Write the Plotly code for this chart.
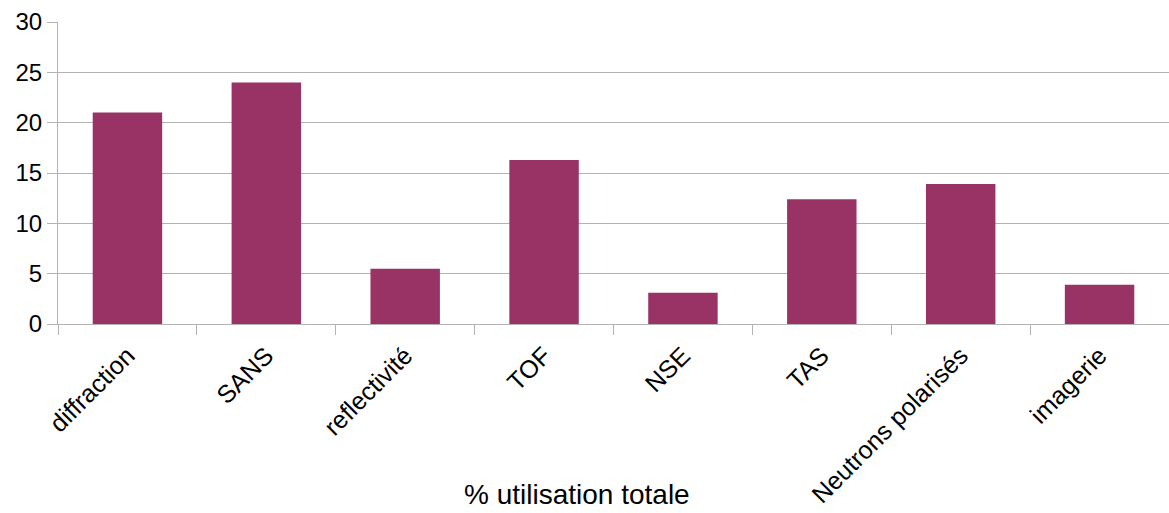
import plotly.graph_objects as go

# Share of total usage per neutron technique
categories = ["diffraction", "SANS", "reflectivité", "TOF", "NSE", "TAS",
              "Neutrons polarisés", "imagerie"]
usage = [21.0, 24.0, 5.5, 16.3, 3.1, 12.4, 13.9, 3.9]

y_ticks = [0, 5, 10, 15, 20, 25, 30]

FONT = "Liberation Sans, Arial, sans-serif"
GRID = "#b3b3b3"

fig = go.Figure(
    go.Bar(x=categories, y=usage, marker=dict(color="#993366", line=dict(width=0)),
           width=0.5)
)

fig.update_layout(
    width=1169, height=513,
    margin=dict(l=58, r=0, t=22, b=189),
    paper_bgcolor="white", plot_bgcolor="white",
    showlegend=False,
    font=dict(family=FONT, size=24, color="black"),
)

fig.update_xaxes(
    type="category",
    automargin=False,
    tickangle=-45,
    tickson="boundaries",
    ticks="outside", ticklen=10, tickcolor=GRID, tickwidth=1,
    ticklabelstandoff=6,
    showline=True, linecolor=GRID, linewidth=1,
    showgrid=False,
    tickfont=dict(family=FONT, size=25, color="black"),
)

fig.update_yaxes(
    range=[0, 30],
    automargin=False,
    tickvals=y_ticks,
    ticks="outside", ticklen=10, tickcolor=GRID, tickwidth=1,
    showline=True, linecolor=GRID, linewidth=1,
    showgrid=True, gridcolor=GRID, gridwidth=1,
    zeroline=False,
    tickfont=dict(family=FONT, size=24, color="black"),
)

fig.add_annotation(
    text="% utilisation totale",
    xref="paper", yref="paper",
    x=(577 - 58) / (1169 - 58), y=(324 - 495) / 302,
    xanchor="center", yanchor="middle",
    showarrow=False,
    font=dict(family=FONT, size=28, color="black"),
)

fig.write_html("out.html")
